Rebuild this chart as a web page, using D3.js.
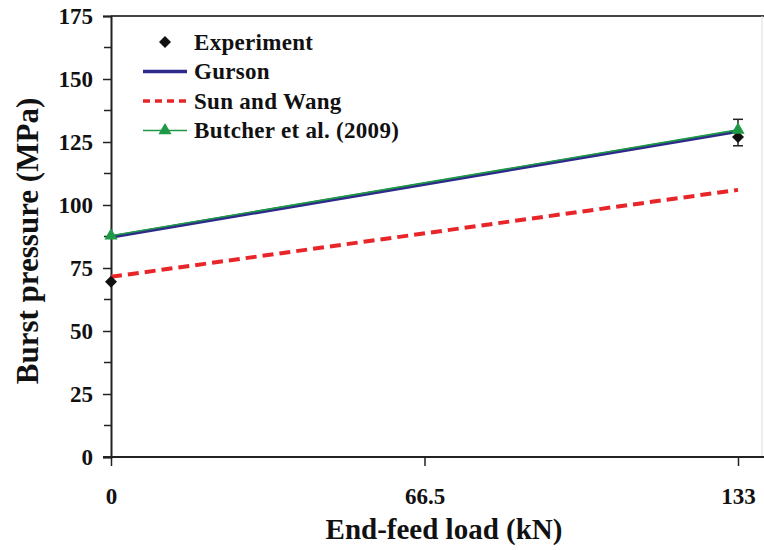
<!DOCTYPE html>
<html>
<head>
<meta charset="utf-8">
<script src="https://cdn.jsdelivr.net/npm/d3@7"></script>
<style>
  body { margin: 0; background: #fff; }
  svg text { font-family: "Liberation Serif", "Times New Roman", serif; font-weight: bold; fill: #111; }
</style>
</head>
<body>
<div id="chart"></div>
<script>
// Data
const loads = [0, 133];                  // End-feed load (kN)
const experiment = [69.5, 127];          // Burst pressure (MPa)
const experimentErr = [[69.5, 69.5], [123.5, 134]];
const gurson = [87.3, 129.3];
const sunWang = [71.5, 106];
const butcher = [87.8, 129.8];
const xTicks = [0, 66.5, 133];
const yTicks = [0, 25, 50, 75, 100, 125, 150, 175];
const yMinor = [12.5, 37.5, 62.5, 87.5, 112.5, 137.5, 162.5];

const width = 764, height = 550;
const plotLeft = 111, plotRight = 738, plotTop = 16, plotBottom = 457;

const svg = d3.select("#chart").append("svg")
  .attr("width", width)
  .attr("height", height);

const x = d3.scaleLinear().domain([0, 133]).range([plotLeft, plotRight]);
const y = d3.scaleLinear().domain([0, 175]).range([plotBottom, plotTop]);

// Frame: top and right edges run off the picture
svg.append("line")
  .attr("x1", plotLeft).attr("x2", width).attr("y1", plotTop).attr("y2", plotTop)
  .attr("stroke", "#444").attr("stroke-width", 2);
svg.append("line")
  .attr("x1", 762).attr("x2", 762).attr("y1", plotTop).attr("y2", plotBottom)
  .attr("stroke", "#ddd").attr("stroke-width", 1);

// Y axis
const yAxis = svg.append("g")
  .attr("transform", `translate(${plotLeft},0)`)
  .call(d3.axisLeft(y).tickValues(yTicks).tickSize(8).tickPadding(10).tickFormat(d3.format("d")));
yAxis.select(".domain").attr("stroke", "#222").attr("stroke-width", 2);
yAxis.selectAll(".tick line").attr("stroke", "#222").attr("stroke-width", 1.5);
yAxis.selectAll(".tick text").style("font-size", "23px").attr("dy", "0.34em");

svg.append("g")
  .attr("transform", `translate(${plotLeft},0)`)
  .selectAll("line")
  .data(yMinor)
  .enter()
  .append("line")
  .attr("x1", -7).attr("x2", 0)
  .attr("y1", d => y(d)).attr("y2", d => y(d))
  .attr("stroke", "#222").attr("stroke-width", 1.5);

// X axis (line extends to the right edge)
const xAxis = svg.append("g")
  .attr("transform", `translate(0,${plotBottom})`)
  .call(d3.axisBottom(x).tickValues(xTicks).tickSize(9).tickPadding(22).tickFormat(d => d));
xAxis.select(".domain").remove();
xAxis.selectAll(".tick line").attr("stroke", "#222").attr("stroke-width", 1.5);
xAxis.selectAll(".tick text").style("font-size", "23px");
svg.append("line")
  .attr("x1", plotLeft - 8).attr("x2", width).attr("y1", plotBottom).attr("y2", plotBottom)
  .attr("stroke", "#222").attr("stroke-width", 2);

// Axis titles
svg.append("text")
  .attr("x", 444).attr("y", 539)
  .attr("text-anchor", "middle")
  .style("font-size", "29px")
  .text("End-feed load (kN)");

svg.append("text")
  .attr("transform", `translate(38,241) rotate(-90)`)
  .attr("text-anchor", "middle")
  .style("font-size", "31px")
  .text("Burst pressure (MPa)");

// Series
const pts = vals => loads.map((l, i) => [l, vals[i]]);
const line = d3.line().x(d => x(d[0])).y(d => y(d[1]));

svg.append("path")
  .datum(pts(sunWang))
  .attr("d", line)
  .attr("fill", "none")
  .attr("stroke", "#e8262a")
  .attr("stroke-width", 4)
  .attr("stroke-dasharray", "11,6");

svg.append("path")
  .datum(pts(gurson))
  .attr("d", line)
  .attr("fill", "none")
  .attr("stroke", "#2e2a8c")
  .attr("stroke-width", 3.5);

svg.append("path")
  .datum(pts(butcher))
  .attr("d", line)
  .attr("fill", "none")
  .attr("stroke", "#1e9a46")
  .attr("stroke-width", 1.6);

const tri = d3.symbol().type(d3.symbolTriangle).size(75);
const dia = d3.symbol().type(d3.symbolSquare).size(72);   // drawn rotated 45°

// Error bars for experiment
experimentErr.forEach((e, i) => {
  if (e[0] === e[1]) return;
  const g = svg.append("g").attr("stroke", "#222").attr("stroke-width", 1.5);
  g.append("line").attr("x1", x(loads[i])).attr("x2", x(loads[i])).attr("y1", y(e[0])).attr("y2", y(e[1]));
  g.append("line").attr("x1", x(loads[i]) - 5).attr("x2", x(loads[i]) + 5).attr("y1", y(e[0])).attr("y2", y(e[0]));
  g.append("line").attr("x1", x(loads[i]) - 5).attr("x2", x(loads[i]) + 5).attr("y1", y(e[1])).attr("y2", y(e[1]));
});

svg.selectAll(".exp")
  .data(pts(experiment))
  .enter()
  .append("path")
  .attr("class", "exp")
  .attr("d", dia)
  .attr("transform", d => `translate(${x(d[0])},${y(d[1])}) rotate(45)`)
  .attr("fill", "#111");

svg.selectAll(".but")
  .data(pts(butcher))
  .enter()
  .append("path")
  .attr("class", "but")
  .attr("d", tri)
  .attr("transform", d => `translate(${x(d[0])},${y(d[1])})`)
  .attr("fill", "#1e9a46");

// Legend
const legendItems = [
  { name: "Experiment", kind: "diamond" },
  { name: "Gurson", kind: "line", color: "#2e2a8c", width: 3.5, dash: null },
  { name: "Sun and Wang", kind: "line", color: "#e8262a", width: 3.5, dash: "7,5" },
  { name: "Butcher et al. (2009)", kind: "tri", color: "#1e9a46", width: 1.6, dash: null }
];

const legend = svg.append("g").attr("transform", "translate(143,42)");
legendItems.forEach((item, i) => {
  const g = legend.append("g").attr("transform", `translate(0,${i * 29.5})`);
  if (item.kind === "diamond") {
    g.append("path").attr("d", dia).attr("transform", "translate(22,0) rotate(45)").attr("fill", "#111");
  } else {
    g.append("line")
      .attr("x1", 0).attr("x2", 44).attr("y1", 0).attr("y2", 0)
      .attr("stroke", item.color).attr("stroke-width", item.width)
      .attr("stroke-dasharray", item.dash);
    if (item.kind === "tri") {
      g.append("path").attr("d", tri).attr("transform", "translate(22,0)").attr("fill", item.color);
    }
  }
  g.append("text")
    .attr("x", 51).attr("y", 0).attr("dy", "0.34em")
    .style("font-size", "23px")
    .style("letter-spacing", "0.3px")
    .text(item.name);
});
</script>
</body>
</html>
